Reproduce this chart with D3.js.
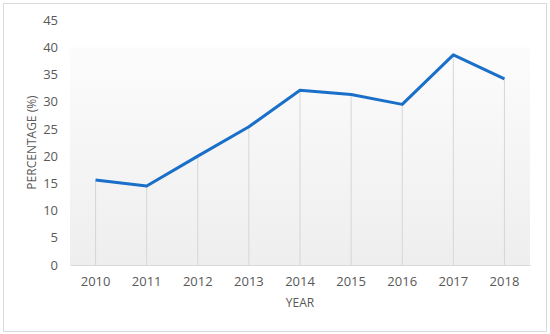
<!DOCTYPE html>
<html lang="en">
<head>
    <meta charset="utf-8">
    <title>Percentage by year</title>
    <script src="https://d3js.org/d3.v7.min.js"></script>
    <style>
        body { margin: 0; background: #fff; }
        text { font-family: "Open Sans", "Liberation Sans", sans-serif; fill: #595959; }
    </style>
</head>
<body>
<div id="chart"></div>
<script>
    // Data
    const years = ["2010", "2011", "2012", "2013", "2014", "2015", "2016", "2017", "2018"];
    const percentages = [15.6, 14.5, 20.0, 25.4, 32.1, 31.3, 29.5, 38.6, 34.2];
    const yTicks = [0, 5, 10, 15, 20, 25, 30, 35, 40, 45];

    const W = 550, H = 334;
    const margin = {top: 20, right: 20, bottom: 69, left: 70};

    const svg = d3.select("#chart")
        .append("svg")
        .attr("width", W)
        .attr("height", H);

    // outer frame
    svg.append("rect")
        .attr("x", 3.5).attr("y", 3.5)
        .attr("width", W - 7).attr("height", H - 6)
        .attr("fill", "#fff")
        .attr("stroke", "#d9d9d9");

    const x = d3.scaleBand()
        .domain(years)
        .range([margin.left, W - margin.right]);

    const y = d3.scaleLinear()
        .domain([0, 45])
        .range([H - margin.bottom, margin.top]);

    // plot area gradient
    const grad = svg.append("defs").append("linearGradient")
        .attr("id", "bg")
        .attr("x1", 0).attr("y1", 0).attr("x2", 0).attr("y2", 1);
    grad.append("stop").attr("offset", "0%").attr("stop-color", "#fcfcfc");
    grad.append("stop").attr("offset", "100%").attr("stop-color", "#eeeeee");

    svg.append("rect")
        .attr("x", margin.left)
        .attr("y", y(40))
        .attr("width", W - margin.right - margin.left)
        .attr("height", y(0) - y(40))
        .attr("fill", "url(#bg)");

    // drop lines
    svg.append("g")
        .selectAll("line")
        .data(years)
        .join("line")
        .attr("x1", (d) => x(d) + x.bandwidth() / 2)
        .attr("x2", (d) => x(d) + x.bandwidth() / 2)
        .attr("y1", (d, i) => y(percentages[i]))
        .attr("y2", y(0))
        .attr("stroke", "#d6d6d6")
        .attr("stroke-width", 1);

    // x axis
    const xAxis = svg.append("g")
        .attr("transform", `translate(0,${y(0)})`)
        .call(d3.axisBottom(x).tickSize(0).tickPadding(12));
    xAxis.select(".domain").attr("stroke", "#d9d9d9");
    xAxis.selectAll("text").attr("font-size", 13);

    // y axis
    const yAxis = svg.append("g")
        .attr("transform", `translate(${margin.left - 6},0)`)
        .call(d3.axisLeft(y).tickValues(yTicks).tickSize(0).tickPadding(6));
    yAxis.select(".domain").remove();
    yAxis.selectAll("text").attr("font-size", 13);

    // line
    const line = d3.line()
        .x((d, i) => x(years[i]) + x.bandwidth() / 2)
        .y((d) => y(d));

    svg.append("path")
        .datum(percentages)
        .attr("d", line)
        .attr("fill", "none")
        .attr("stroke", "#1a6fc9")
        .attr("stroke-width", 3)
        .attr("stroke-linejoin", "round");

    // axis titles
    svg.append("text")
        .attr("x", (margin.left + W - margin.right) / 2)
        .attr("y", 307)
        .attr("text-anchor", "middle")
        .attr("font-size", 12)
        .text("YEAR");

    svg.append("text")
        .attr("transform", `translate(36,${(y(0) + y(45)) / 2}) rotate(-90)`)
        .attr("text-anchor", "middle")
        .attr("font-size", 12)
        .text("PERCENTAGE (%)");
</script>
</body>
</html>
